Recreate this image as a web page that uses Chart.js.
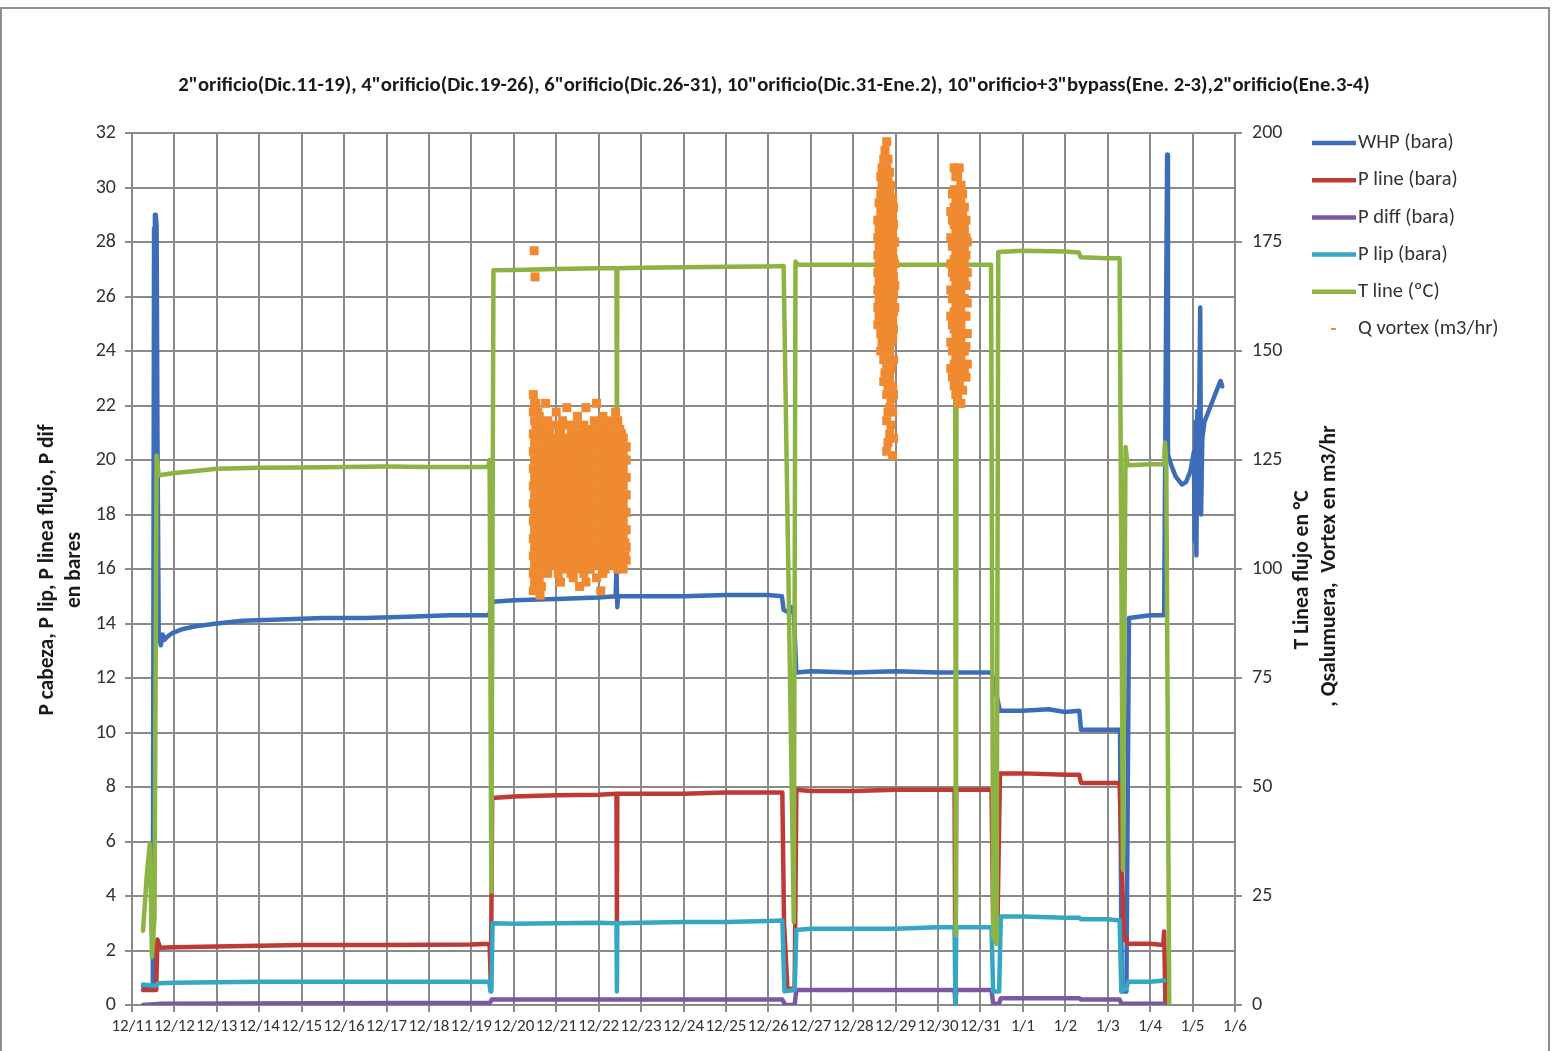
<!DOCTYPE html>
<html lang="es">
<head>
<meta charset="UTF-8">
<title>Registro del pozo</title>
<script src="https://cdn.jsdelivr.net/npm/chart.js"></script>
<style>
    body { margin: 0; background: #fff; }
    #wrap { width: 1555px; height: 1051px; }
</style>
</head>
<body>
<div id="wrap"><canvas id="chart" width="1555" height="1051"></canvas></div>
<script>
    // eje x: días desde 12/11
    const dayLabels = ['12/11','12/12','12/13','12/14','12/15','12/16','12/17','12/18','12/19','12/20',
        '12/21','12/22','12/23','12/24','12/25','12/26','12/27','12/28','12/29','12/30','12/31',
        '1/1','1/2','1/3','1/4','1/5','1/6'];

    // [día, bara]
    const whp = [[0.26,0.7],[0.49,0.7],[0.52,28.5],[0.54,29.0],[0.56,29.0],[0.58,28.6],[0.60,21.0],[0.63,13.6],
        [0.68,13.2],[0.72,13.6],[0.76,13.4],[0.82,13.5],[0.95,13.65],[1.2,13.8],[1.5,13.9],[2.0,14.0],[2.6,14.1],
        [3.5,14.15],[4.5,14.2],[5.5,14.2],[6.5,14.25],[7.5,14.3],[8.42,14.3],[8.46,14.6],[8.50,14.8],[9,14.85],
        [10,14.9],[11,14.95],[11.40,15.0],[11.42,16.0],[11.44,14.6],[11.46,15.0],[12,15.0],[13,15.0],[14,15.05],
        [15,15.05],[15.32,15.0],[15.36,14.5],[15.50,14.4],[15.55,14.6],[15.60,14.4],[15.66,12.2],[16,12.25],
        [17,12.2],[18,12.25],[19,12.2],[20.26,12.2],[20.46,10.8],[21,10.8],[21.6,10.85],[22,10.75],[22.33,10.8],
        [22.37,10.1],[23,10.1],[23.29,10.1],[23.33,0.5],[23.44,0.5],[23.50,14.2],[24,14.3],[24.33,14.3],
        [24.40,31.2],[24.42,20.2],[24.50,19.8],[24.60,19.4],[24.75,19.1],[24.85,19.2],[24.95,19.6],[25.03,20.3],
        [25.05,17.0],[25.07,21.4],[25.09,16.5],[25.11,21.8],[25.13,18.2],[25.15,21.0],[25.18,25.6],[25.20,18.0],
        [25.23,20.8],[25.28,21.4],[25.38,21.8],[25.48,22.2],[25.58,22.6],[25.66,22.9],[25.70,22.7]];

    const pLine = [[0.26,0.55],[0.57,0.55],[0.60,2.4],[0.66,2.1],[1,2.12],[2,2.15],[4,2.2],[6,2.2],[8,2.22],
        [8.43,2.25],[8.46,0.6],[8.49,7.6],[9,7.65],[10,7.7],[11,7.72],[11.42,7.75],[11.43,3.0],[11.44,7.75],
        [12,7.75],[13,7.75],[14,7.8],[15,7.8],[15.33,7.8],[15.37,3.0],[15.45,0.6],[15.62,0.6],[15.66,7.9],
        [16,7.85],[17,7.85],[18,7.9],[19,7.9],[19.39,7.9],[19.41,0],[19.43,7.9],[20.26,7.9],[20.30,3.0],
        [20.40,2.9],[20.46,8.5],[21,8.5],[22,8.45],[22.33,8.45],[22.37,8.15],[23,8.15],[23.28,8.15],
        [23.38,2.4],[23.42,2.5],[23.46,2.25],[24,2.25],[24.31,2.2],[24.33,2.7],[24.36,0]];

    const pDiff = [[0.26,0],[0.7,0.05],[8.44,0.08],[8.48,0.2],[15.33,0.2],[15.40,0],[15.62,0],[15.66,0.55],
        [19.39,0.55],[19.41,0],[19.43,0.55],[20.26,0.55],[20.30,0.05],[20.44,0.05],[20.48,0.25],[22.33,0.25],
        [22.37,0.2],[23.28,0.2],[23.32,0.05],[24.33,0.05]];

    const pLip = [[0.26,0.75],[0.55,0.7],[0.62,0.8],[1,0.82],[3,0.85],[6,0.85],[8.42,0.85],[8.45,0.5],
        [8.47,0.5],[8.50,3.0],[9,2.98],[10,3.0],[11,3.02],[11.42,3.0],[11.43,0.5],[11.44,3.0],[12,3.02],
        [13,3.05],[14,3.05],[15,3.08],[15.33,3.1],[15.38,0.5],[15.62,0.55],[15.66,2.75],[16,2.8],[17,2.8],
        [18,2.8],[19,2.85],[19.39,2.85],[19.41,0],[19.43,2.85],[20.26,2.85],[20.30,0.5],[20.44,0.5],
        [20.48,3.25],[21,3.25],[22,3.2],[22.33,3.2],[22.37,3.15],[23,3.15],[23.28,3.1],[23.32,0.5],
        [23.44,0.6],[23.48,0.85],[24,0.85],[24.33,0.9]];

    // [día, ºC] eje derecho
    const tLine = [[0.26,17],[0.35,30],[0.42,37],[0.47,11],[0.53,20],[0.58,126],[0.63,121.5],[1,122],
        [1.5,122.5],[2,123],[3,123.2],[4,123.3],[5,123.4],[6,123.5],[7,123.4],[8.40,123.4],[8.43,125],
        [8.47,26],[8.52,168.5],[9,168.6],[10,168.8],[11,169],[11.42,169],[11.43,122],[11.44,169],[12,169.1],
        [13,169.2],[14,169.3],[15,169.4],[15.36,169.5],[15.60,19],[15.64,170.5],[15.70,169.8],[17,169.8],
        [18,169.8],[19.40,169.8],[19.42,16],[19.44,169.8],[20.25,169.8],[20.30,16],[20.38,14],[20.42,172.7],
        [21,173],[22,172.8],[22.32,172.6],[22.36,171.5],[23,171.3],[23.28,171.3],[23.36,31],[23.42,128],
        [23.47,123.8],[24,124],[24.32,124],[24.35,129],[24.38,124],[24.45,0]];

    // Q vortex (m3/hr): [día, lecturas en ese momento]
    const qCloud1 = [
        [9.46,[140,136,131,127,123,119,115,111,107,103,99,95]],
        [9.49,[138,134,129,125,121,117,113,109,105,101,97]],
        [9.52,[138,133,129,125,121,117,113,109,105,101,97]],
        [9.56,[136,131,127,123,119,115,111,107,103,99]],
        [9.60,[135,130,126,122,118,114,110,106,102,98]],
        [9.65,[133,128,124,120,116,112,108,104,100,96]],
        [9.70,[131,128,124,120,116,112,108,104,100]],
        [9.75,[132,126,122,118,114,110,106,102]],
        [9.80,[134,129,126,122,118,114,110,106,103,99]],
        [9.85,[131,128,124,120,116,112,108,104,101]],
        [9.90,[130,127,123,119,115,111,107,103]],
        [9.95,[133,129,125,121,117,113,109,105,101]],
        [10.00,[136,128,125,121,117,113,109,105,101]],
        [10.05,[130,127,123,119,115,111,107,103,99]],
        [10.10,[132,129,126,122,118,114,110,106,102,97]],
        [10.15,[134,128,124,120,116,112,108,104,100]],
        [10.20,[130,127,123,119,115,111,107,103]],
        [10.25,[129,125,121,117,113,109,105,101]],
        [10.30,[133,128,125,121,117,113,109,105,101]],
        [10.35,[131,127,123,119,115,111,107,103,99]],
        [10.40,[131,129,126,122,118,114,110,106,102,98]],
        [10.45,[133,128,124,120,116,112,108,104,100]],
        [10.50,[135,130,127,123,119,115,111,107,103]],
        [10.55,[129,125,121,117,113,109,105,101]],
        [10.60,[131,128,125,121,117,113,109,105,101]],
        [10.65,[133,130,127,123,119,115,111,107,103,99]],
        [10.70,[137,132,129,126,122,118,114,110,106,102,97]],
        [10.75,[131,128,124,120,116,112,108,104,100]],
        [10.80,[130,127,123,119,115,111,107,103,100]],
        [10.85,[132,129,125,121,117,113,109,105,102]],
        [10.90,[134,131,128,125,121,117,113,109,105,101]],
        [10.95,[129,125,121,117,113,109,105,101,98]],
        [11.00,[130,127,123,119,115,111,107,103]],
        [11.05,[133,129,125,121,117,113,109,105,101]],
        [11.10,[135,132,129,126,122,118,114,110,106,102,99]],
        [11.15,[130,127,124,120,116,112,108,104,100]],
        [11.20,[131,128,124,120,116,112,108,104,101]],
        [11.25,[134,129,126,122,118,114,110,106,102]],
        [11.30,[133,130,127,123,119,115,111,107,103]],
        [11.35,[131,128,125,121,117,113,109,105,101]],
        [11.40,[136,131,128,125,121,117,113,109,105,102]],
        [11.45,[134,130,127,123,119,115,111,107,104,100]],
        [11.50,[132,129,126,122,118,114,110,106,103]],
        [11.54,[131,128,124,120,116,112,108,105,101]],
        [11.58,[130,127,123,119,115,111,107,104,100]],
        [11.62,[128,125,121,117,113,109,106,103]],
        [11.65,[128,125,121,117,113,109,105,102]]
    ];
    const qCloud2 = [
        [17.58,[180,176,172,168,164,160,156]],
        [17.61,[184,178,174,170,166,162,158]],
        [17.65,[190,186,182,178,174,170,166,162,158,154,150]],
        [17.68,[192,188,184,180,176,172,168,164,160,156,152]],
        [17.72,[194,189,185,181,177,173,169,165,161,157,153,148,143]],
        [17.75,[196,190,186,182,178,174,170,166,162,158,155,150,145]],
        [17.79,[198,192,188,184,180,176,172,168,164,160,156,151,146,140,134,127]],
        [17.82,[194,190,186,182,178,174,170,166,162,158,153,148,142,136,129]],
        [17.86,[191,187,183,179,175,171,167,163,159,155,150,144,137,131]],
        [17.89,[188,185,181,177,173,169,165,161,157,152,146,139,133]],
        [17.93,[185,181,177,173,169,165,161,157,153,142,136,126]],
        [17.95,[183,179,175,171,167,163,159,155,148,140,130]],
        [17.98,[175,170,165,160]]
    ];
    const qCloud3 = [
        [19.30,[182,176,170,164,158,152,146]],
        [19.34,[186,180,174,168,162,156,150,144]],
        [19.38,[192,187,183,179,175,171,167,163,159,155,151,147,142]],
        [19.42,[190,185,181,177,173,169,165,161,157,153,149,145,140]],
        [19.46,[190,185,181,177,173,169,165,161,157,153,149,145,140]],
        [19.50,[192,187,183,179,175,171,167,163,159,155,151,147,142,138]],
        [19.54,[188,184,180,176,172,168,164,160,156,152,148,144,138]],
        [19.58,[186,182,178,174,170,166,162,158,154,150,146,141]],
        [19.62,[183,178,174,170,166,162,158,154,150,146]],
        [19.66,[180,176,172,165,158,151,144]],
        [19.69,[175,168,161,154,147]]
    ];
    const qStray = [[9.48,173],[9.50,167],[9.75,138],[10.25,137],[10.95,138],[9.62,94],[10.55,96],[11.05,95]];

    const FONT = 'Carlito, Lato, sans-serif';
    const GRID = '#8a8a8a';
    const colors = {
        whp: '#3d6cb9', pLine: '#be3a34', pDiff: '#7b57a4', pLip: '#33a7c4', tLine: '#8cb444', q: '#f08a30'
    };

    const pts = arr => arr.map(p => ({ x: p[0], y: p[1] }));
    const qPoints = qCloud1.concat(qCloud2, qCloud3)
        .flatMap(c => c[1].map(v => ({ x: c[0], y: v })))
        .concat(pts(qStray));

    function lineSet(label, data, color, axis, order) {
        return {
            label: label, data: pts(data), borderColor: color, backgroundColor: color,
            borderWidth: 4.5, pointRadius: 0, tension: 0, yAxisID: axis, order: order,
            borderJoinStyle: 'round', borderCapStyle: 'round'
        };
    }

    const legendItems = [
        ['WHP (bara)', colors.whp], ['P line (bara)', colors.pLine], ['P diff (bara)', colors.pDiff],
        ['P lip (bara)', colors.pLip], ['T line (ºC)', colors.tLine], ['Q vortex (m3/hr)', colors.q]
    ];

    // fondo, marco, títulos y leyenda
    const decor = {
        id: 'decor',
        beforeDraw(chart) {
            const ctx = chart.ctx;
            ctx.save();
            ctx.fillStyle = '#fff';
            ctx.fillRect(0, 0, chart.width, chart.height);
            ctx.restore();
        },
        afterDraw(chart) {
            const ctx = chart.ctx;
            ctx.save();
            ctx.strokeStyle = '#8f8f8f';
            ctx.lineWidth = 2;
            ctx.strokeRect(1, 8, 1548, 1100);

            ctx.fillStyle = '#1a1a1a';
            ctx.textAlign = 'center';
            ctx.textBaseline = 'middle';
            ctx.font = 'bold 20.7px ' + FONT;
            ctx.fillText('2"orificio(Dic.11-19), 4"orificio(Dic.19-26), 6"orificio(Dic.26-31), 10"orificio(Dic.31-Ene.2), 10"orificio+3"bypass(Ene. 2-3),2"orificio(Ene.3-4)', 774, 86);

            ctx.font = 'bold 21.5px ' + FONT;
            ctx.save();
            ctx.translate(48, 570);
            ctx.rotate(-Math.PI / 2);
            ctx.fillText('P cabeza, P lip, P linea flujo, P dif', 0, 0);
            ctx.fillText('en bares', 0, 27);
            ctx.restore();

            ctx.save();
            ctx.translate(1303, 570);
            ctx.rotate(-Math.PI / 2);
            ctx.fillText('T Linea flujo en °C', 0, 0);
            ctx.restore();
            ctx.save();
            ctx.translate(1330, 566);
            ctx.rotate(-Math.PI / 2);
            ctx.fillText(', Qsalumuera,  Vortex en m3/hr', 0, 0);
            ctx.restore();

            ctx.font = '20.5px ' + FONT;
            ctx.textAlign = 'left';
            ctx.fillStyle = '#333';
            legendItems.forEach((item, i) => {
                const y = 143 + i * 37.2;
                ctx.strokeStyle = item[1];
                ctx.beginPath();
                if (i < 5) {
                    ctx.lineWidth = 4.5;
                    ctx.moveTo(1312, y);
                    ctx.lineTo(1356, y);
                } else {
                    ctx.lineWidth = 2;
                    ctx.moveTo(1331, y);
                    ctx.lineTo(1336, y);
                }
                ctx.stroke();
                ctx.fillText(item[0], 1358, y);
            });
            ctx.restore();
        }
    };

    new Chart(document.getElementById('chart'), {
        type: 'line',
        data: {
            datasets: [
                lineSet('WHP (bara)', whp, colors.whp, 'y', 5),
                lineSet('P line (bara)', pLine, colors.pLine, 'y', 4),
                lineSet('P diff (bara)', pDiff, colors.pDiff, 'y', 3),
                lineSet('P lip (bara)', pLip, colors.pLip, 'y', 2),
                lineSet('T line (ºC)', tLine, colors.tLine, 'y2', 1),
                {
                    label: 'Q vortex (m3/hr)', data: qPoints, showLine: false, yAxisID: 'y2', order: 0,
                    pointStyle: 'line', pointRadius: 4.5, pointBorderWidth: 9,
                    borderColor: colors.q, backgroundColor: colors.q
                }
            ]
        },
        options: {
            responsive: false,
            animation: false,
            layout: { padding: { top: 133, left: 0, right: 0, bottom: 0 } },
            plugins: { legend: { display: false }, tooltip: { enabled: false } },
            scales: {
                x: {
                    type: 'linear', min: 0, max: 26,
                    ticks: {
                        stepSize: 1, autoSkip: false, maxRotation: 0, padding: 5,
                        color: '#333', font: { family: FONT, size: 17 },
                        callback: v => dayLabels[Math.round(v)]
                    },
                    grid: { color: GRID, lineWidth: 2, tickLength: 7 },
                    border: { color: GRID, width: 2 },
                    afterFit: s => { s.height = 46; }
                },
                y: {
                    position: 'left', min: 0, max: 32,
                    ticks: { stepSize: 2, padding: 9, color: '#333', font: { family: FONT, size: 20 } },
                    grid: { color: GRID, lineWidth: 2, tickLength: 7 },
                    border: { color: GRID, width: 2 },
                    afterFit: s => { s.width = 132; }
                },
                y2: {
                    position: 'right', min: 0, max: 200,
                    ticks: { stepSize: 25, padding: 10, color: '#333', font: { family: FONT, size: 20 } },
                    grid: { drawOnChartArea: false, color: GRID, lineWidth: 2, tickLength: 7 },
                    border: { color: GRID, width: 2 },
                    afterFit: s => { s.width = 320; }
                }
            }
        },
        plugins: [decor]
    });
</script>
</body>
</html>
